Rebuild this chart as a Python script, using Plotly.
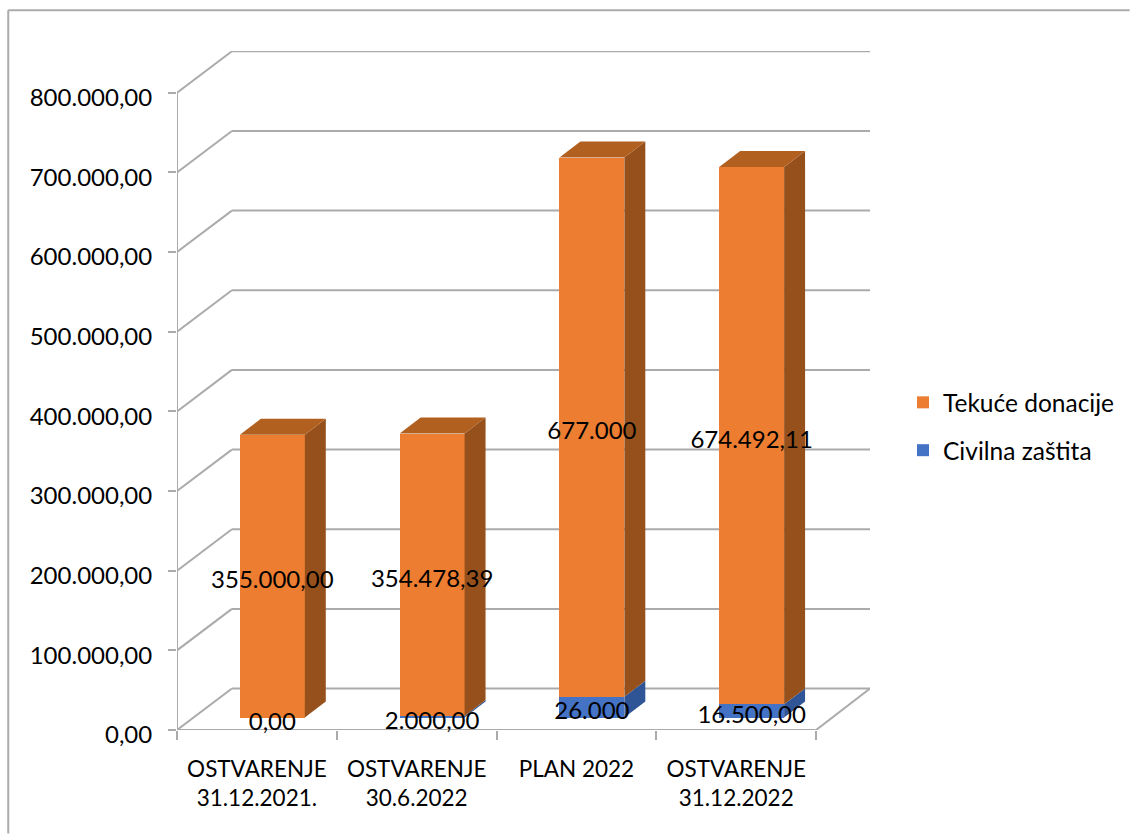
import plotly.graph_objects as go

# Data
categories = ["OSTVARENJE<br>31.12.2021.", "OSTVARENJE<br>30.6.2022", "PLAN 2022", "OSTVARENJE<br>31.12.2022"]
tekuce_donacije = [355000.00, 354478.39, 677000.00, 674492.11]
civilna_zastita = [0.00, 2000.00, 26000.00, 16500.00]
tekuce_labels = ["355.000,00", "354.478,39", "677.000", "674.492,11"]
civilna_labels = ["0,00", "2.000,00", "26.000", "16.500,00"]
y_ticks = [0, 100000, 200000, 300000, 400000, 500000, 600000, 700000, 800000]
y_tick_labels = ["0,00", "100.000,00", "200.000,00", "300.000,00", "400.000,00",
                 "500.000,00", "600.000,00", "700.000,00", "800.000,00"]

# Pseudo-3D geometry, in pixels and converted to axis units
W, H = 1131, 834
L, R, T, B = 177, 871, 50.7, 730.5
PX_PER_CAT = 160.0
PX_PER_VAL = 79.75 / 100000
x_max = (R - L) / PX_PER_CAT
y_max = (B - T) / PX_PER_VAL
wall_dx = 55 / PX_PER_CAT
wall_dy = 41.5 / PX_PER_VAL
bar_shift = 15.5 / PX_PER_CAT
bar_width = 65 / PX_PER_CAT
bar_base = 12.5 / PX_PER_VAL
bar_dx = 21 / PX_PER_CAT
bar_dy = 16 / PX_PER_VAL
label_drop = 6 / PX_PER_VAL

ORANGE, ORANGE_TOP, ORANGE_SIDE = "#ED7D31", "#B2601F", "#96501C"
BLUE, BLUE_SIDE = "#4472C4", "#2F5597"
GRID = "#ABABAB"
FONT = "Lato"
FS = 24

centers = [i + 0.5 + bar_shift for i in range(len(categories))]
fig = go.Figure()

# Front faces
fig.add_trace(go.Bar(
    name="Tekuće donacije", legendgroup="a", x=centers, y=tekuce_donacije,
    base=[bar_base + c for c in civilna_zastita], width=bar_width,
    marker=dict(color=ORANGE, line_width=0)))
fig.add_trace(go.Bar(
    name="Civilna zaštita", legendgroup="b", x=centers, y=civilna_zastita,
    base=bar_base, width=bar_width,
    marker=dict(color=BLUE, line_width=0)))


def poly(xs, ys, color):
    fig.add_trace(go.Scatter(x=xs, y=ys, mode="lines", fill="toself", fillcolor=color,
                             line=dict(width=0, color=color), showlegend=False,
                             hoverinfo="skip"))


# Side and top faces
for cx, civ, tek in zip(centers, civilna_zastita, tekuce_donacije):
    xr = cx + bar_width / 2
    xl = cx - bar_width / 2
    y0, y1, y2 = bar_base, bar_base + civ, bar_base + civ + tek
    if civ > 0:
        poly([xr, xr + bar_dx, xr + bar_dx, xr, xr], [y0, y0 + bar_dy, y1 + bar_dy, y1, y0], BLUE_SIDE)
    poly([xr, xr + bar_dx, xr + bar_dx, xr, xr], [y1, y1 + bar_dy, y2 + bar_dy, y2, y1], ORANGE_SIDE)
    poly([xl, xr, xr + bar_dx, xl + bar_dx, xl], [y2, y2, y2 + bar_dy, y2 + bar_dy, y2], ORANGE_TOP)

# Data labels
fig.add_trace(go.Scatter(
    x=centers + centers,
    y=[bar_base + c + t / 2 - label_drop for c, t in zip(civilna_zastita, tekuce_donacije)]
      + [bar_base + c / 2 - label_drop for c in civilna_zastita],
    text=tekuce_labels + civilna_labels,
    mode="text", textposition="middle center",
    textfont=dict(family=FONT, size=FS, color="#000000"),
    showlegend=False, hoverinfo="skip", cliponaxis=False))

# Walls and floor, beneath the bars
n = len(categories)
shapes = []


def seg(x0, y0, x1, y1):
    shapes.append(dict(type="line", xref="x", yref="y", x0=x0, y0=y0, x1=x1, y1=y1,
                       layer="below", line=dict(color=GRID, width=2)))


for v in y_ticks:
    seg(0, v, wall_dx, v + wall_dy)
    seg(wall_dx, v + wall_dy, x_max, v + wall_dy)
seg(0, 0, 0, y_ticks[-1])
seg(0, 0, n, 0)
seg(n, 0, x_max, wall_dy)

# Outer chart frame: left and top edges only
frame = dict(color="#ABABAB", width=2)
fx = lambda p: (p - L) / (R - L)
fy = lambda p: (B - p) / (B - T)
shapes.append(dict(type="line", xref="paper", yref="paper", x0=fx(8), x1=fx(8), y0=fy(10), y1=fy(H), line=frame))
shapes.append(dict(type="line", xref="paper", yref="paper", x0=fx(8), x1=fx(W), y0=fy(10), y1=fy(10), line=frame))

fig.update_layout(
    width=W, height=H,
    margin=dict(l=L, r=W - R, t=T, b=H - B, pad=0),
    paper_bgcolor="white", plot_bgcolor="rgba(0,0,0,0)",
    barmode="overlay", bargap=0,
    font=dict(family=FONT, size=FS, color="#000000"),
    shapes=shapes,
    showlegend=True,
    legend=dict(x=fx(903), y=fy(380), xanchor="left", yanchor="top",
                font=dict(family=FONT, size=24.5), tracegroupgap=13,
                traceorder="grouped", itemclick=False, itemdoubleclick=False,
                bgcolor="rgba(0,0,0,0)"),
    xaxis=dict(range=[0, x_max], tickvals=[i + 0.5 for i in range(n)], ticktext=categories,
               ticks="", showgrid=False, zeroline=False, showline=False,
               minor=dict(tickvals=list(range(n + 1)), ticks="outside", ticklen=9,
                          tickwidth=1.5, tickcolor=GRID, showgrid=False),
               tickfont=dict(family=FONT, size=22.5), ticklabelstandoff=23, tickangle=0, automargin=False),
    yaxis=dict(range=[0, y_max], tickvals=y_ticks, ticktext=y_tick_labels,
               ticks="outside", ticklen=8, tickwidth=1.5, tickcolor=GRID,
               showgrid=False, zeroline=False, showline=False,
               tickfont=dict(family=FONT, size=FS), ticklabelstandoff=11, ticklabelshift=5,
               automargin=False),
)

fig.write_html("out.html", config={"displayModeBar": False},
               post_script="document.body.style.margin='0';document.body.style.overflow='hidden';")
